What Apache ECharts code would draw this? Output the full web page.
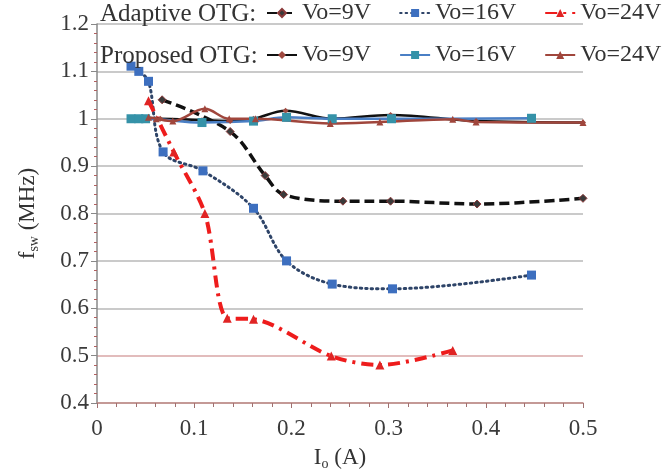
<!DOCTYPE html>
<html>
<head>
<meta charset="utf-8">
<script src="https://cdn.jsdelivr.net/npm/echarts@6/dist/echarts.min.js"></script>
<style>
  html, body { margin: 0; padding: 0; background: #fff; }
  #chart { width: 671px; height: 476px; }
</style>
</head>
<body>
<div id="chart"></div>
<script>
// Output current Io (A) and switching frequency fsw (MHz) per control scheme
const adaptive9V_x  = [0.067, 0.137, 0.173, 0.192, 0.253, 0.302, 0.391, 0.500];
const adaptive9V_y  = [1.040, 0.973, 0.880, 0.840, 0.826, 0.826, 0.820, 0.832];
const adaptive16V_x = [0.035, 0.043, 0.053, 0.068, 0.109, 0.161, 0.195, 0.242, 0.304, 0.447];
const adaptive16V_y = [1.111, 1.100, 1.079, 0.930, 0.890, 0.811, 0.700, 0.651, 0.641, 0.670];
const adaptive24V_x = [0.053, 0.079, 0.111, 0.134, 0.161, 0.241, 0.291, 0.366];
const adaptive24V_y = [1.038, 0.930, 0.800, 0.579, 0.577, 0.499, 0.480, 0.511];

const proposed9V_x  = [0.053, 0.065, 0.108, 0.137, 0.161, 0.194, 0.242, 0.302, 0.390, 0.500];
const proposed9V_y  = [1.000, 1.000, 0.997, 0.995, 1.000, 1.017, 1.000, 1.008, 0.995, 0.992];
const proposed16V_x = [0.035, 0.043, 0.050, 0.108, 0.161, 0.195, 0.242, 0.303, 0.447];
const proposed16V_y = [1.000, 1.000, 1.000, 0.992, 0.995, 1.003, 1.000, 1.000, 1.001];
const proposed24V_x = [0.053, 0.061, 0.078, 0.111, 0.136, 0.163, 0.240, 0.291, 0.366, 0.390, 0.500];
const proposed24V_y = [1.003, 1.000, 0.995, 1.021, 1.000, 1.000, 0.990, 0.993, 0.999, 0.993, 0.992];

const xTicks = [0, 0.1, 0.2, 0.3, 0.4, 0.5];
const yTicks = [0.4, 0.5, 0.6, 0.7, 0.8, 0.9, 1.0, 1.1, 1.2];

const pairs = (xs, ys) => xs.map((x, i) => [x, ys[i]]);
const serif = '"Liberation Serif", "DejaVu Serif", serif';

const chart = echarts.init(document.getElementById('chart'), null, { renderer: 'canvas' });

const nameOnly = n => n.split(' ').slice(1).join(' ');

const legendText = { fontFamily: serif, fontSize: 24, color: '#333' };

const option = {
  animation: false,
  backgroundColor: '#fff',
  grid: { left: 97, right: 88, top: 24, bottom: 68, containLabel: false },
  xAxis: {
    type: 'value',
    min: xTicks[0], max: xTicks[xTicks.length - 1], interval: 0.1,
    name: '{i|I}{s|o}{i| (A)}',
    nameLocation: 'middle', nameGap: 42,
    nameTextStyle: {
      rich: {
        i: { fontFamily: serif, fontSize: 23, color: '#333' },
        s: { fontFamily: serif, fontSize: 14, color: '#333', verticalAlign: 'bottom', padding: [12, 0, 0, 0] }
      }
    },
    axisLine: { lineStyle: { color: '#c48a86', width: 1.5 } },
    axisTick: { show: true, inside: false, length: 5, lineStyle: { color: '#a07070' } },
    minorTick: { show: true, splitNumber: 5, length: 4, lineStyle: { color: '#a07070' } },
    axisLabel: { fontFamily: serif, fontSize: 23, color: '#3a3a3a', margin: 14,
                 formatter: v => (Math.round(v * 10) / 10).toString() },
    splitLine: { show: false }
  },
  yAxis: {
    type: 'value',
    min: yTicks[0], max: yTicks[yTicks.length - 1], interval: 0.1,
    name: '{f|f}{s|sw}{f| (MHz)}',
    nameLocation: 'middle', nameGap: 56, nameRotate: 90,
    nameTextStyle: {
      rich: {
        f: { fontFamily: serif, fontSize: 23, color: '#333' },
        s: { fontFamily: serif, fontSize: 14, color: '#333', verticalAlign: 'bottom', padding: [12, 0, 0, 0] }
      }
    },
    axisLine: { show: true, lineStyle: { color: '#888', width: 1.5 } },
    axisTick: { show: true, length: 6, lineStyle: { color: '#888' } },
    minorTick: { show: true, splitNumber: 5, length: 3, lineStyle: { color: '#b06060' } },
    axisLabel: { fontFamily: serif, fontSize: 23, color: '#3a3a3a', margin: 8,
                 formatter: v => (Math.round(v * 10) / 10).toString() },
    splitLine: {
      show: true,
      lineStyle: {
        width: 1.5,
        color: ['#b0b0b0', '#d8a6a6', '#b8b8b8', '#b8b8b8', '#b8b8b8', '#b8b8b8', '#b8b8b8', '#b8b8b8', '#b8b8b8']
      }
    }
  },
  legend: [
    {
      data: ['Adaptive Vo=9V', 'Adaptive Vo=16V', 'Adaptive Vo=24V'],
      left: 266, top: 1, padding: 0, itemWidth: 30, itemHeight: 10, itemGap: 28,
      formatter: nameOnly,
      textStyle: legendText
    },
    {
      data: ['Proposed Vo=9V', 'Proposed Vo=16V', 'Proposed Vo=24V'],
      left: 266, top: 43, padding: 0, itemWidth: 30, itemHeight: 10, itemGap: 28,
      formatter: nameOnly,
      textStyle: legendText
    }
  ],
  graphic: [
    { type: 'text', left: 100, top: 2, z: 100,
      style: { text: 'Adaptive OTG:', font: '25px ' + serif, fill: '#333' } },
    { type: 'text', left: 100, top: 44, z: 100,
      style: { text: 'Proposed OTG:', font: '25px ' + serif, fill: '#333' } }
  ],
  series: [
    {
      name: 'Adaptive Vo=9V', type: 'line', smooth: 0.35,
      data: pairs(adaptive9V_x, adaptive9V_y),
      symbol: 'diamond', symbolSize: 8,
      itemStyle: { color: '#3a3a3a', borderColor: '#8a3a3a', borderWidth: 1 },
      lineStyle: { color: '#111', width: 3.5, type: [10, 5] }
    },
    {
      name: 'Adaptive Vo=16V', type: 'line', smooth: 0.35,
      data: pairs(adaptive16V_x, adaptive16V_y),
      symbol: 'rect', symbolSize: 9,
      itemStyle: { color: '#3d6fbf' },
      lineStyle: { color: '#2e4468', width: 3, type: [1.5, 4], cap: 'round' }
    },
    {
      name: 'Adaptive Vo=24V', type: 'line', smooth: 0.3,
      data: pairs(adaptive24V_x, adaptive24V_y),
      symbol: 'triangle', symbolSize: 9,
      itemStyle: { color: '#e02424' },
      lineStyle: { color: '#ee1c1c', width: 4, type: [12, 6, 3, 6] }
    },
    {
      name: 'Proposed Vo=9V', type: 'line', smooth: 0.35,
      data: pairs(proposed9V_x, proposed9V_y),
      symbol: 'diamond', symbolSize: 6,
      itemStyle: { color: '#a04a40' },
      lineStyle: { color: '#111', width: 2.5 }
    },
    {
      name: 'Proposed Vo=16V', type: 'line', smooth: 0.35,
      data: pairs(proposed16V_x, proposed16V_y),
      symbol: 'rect', symbolSize: 9,
      itemStyle: { color: '#3592a8' },
      lineStyle: { color: '#4a7fc5', width: 2.5 }
    },
    {
      name: 'Proposed Vo=24V', type: 'line', smooth: 0.35,
      data: pairs(proposed24V_x, proposed24V_y),
      symbol: 'triangle', symbolSize: 7,
      itemStyle: { color: '#a0463c' },
      lineStyle: { color: '#a0463c', width: 2.5 }
    }
  ]
};

chart.setOption(option);
</script>
</body>
</html>
